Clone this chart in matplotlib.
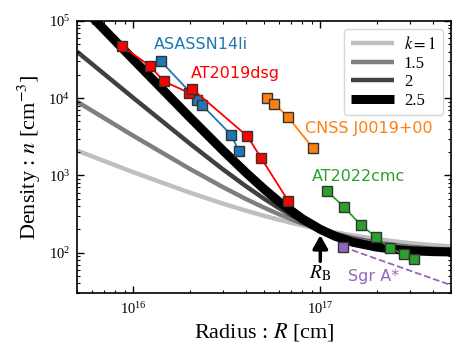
import matplotlib
matplotlib.use('Agg')
import matplotlib.pyplot as plt

plt.rcParams['font.family'] = ['Liberation Serif', 'DejaVu Serif']
plt.rcParams['mathtext.fontset'] = 'stix'

# ---- model density profiles ----
radius_model = [5e15, 1e16, 2e16, 3e16, 4e16, 5e16, 6e16, 8e16, 1e17, 1.2e17,
                1.5e17, 2e17, 2.5e17, 3e17, 4e17, 5e17]
density_k1 = [2100, 1100, 600, 433, 350, 300, 267, 225, 200, 183,
              167, 150, 140, 133, 125, 120]
density_k15 = [9040, 3260, 1220, 710, 495, 383, 315, 240, 200, 176,
               154, 135, 125, 119, 112.5, 109]
density_k2 = [40100, 10100, 2600, 1210, 725, 500, 378, 256, 200, 169,
              144, 125, 116, 111, 106, 104]
density_k25 = [179000, 31700, 5690, 2130, 1090, 666, 459, 275, 200, 163,
               136, 118, 110, 106, 103, 102]
k_labels = ['$k=1$', '1.5', '2', '2.5']

# ---- observed sources ----
asassn_R = [1.40e16, 2.20e16, 2.34e16, 3.34e16, 3.66e16]
asassn_n = [3.04e4, 9.5e3, 8.07e3, 3.35e3, 2.08e3]

at2019_R = [8.68e15, 1.233e16, 1.452e16, 1.977e16, 2.06e16, 4.08e16, 4.81e16, 6.76e16]
at2019_n = [4.72e4, 2.60e4, 1.66e4, 1.18e4, 1.33e4, 3.21e3, 1.70e3, 462]

cnss_R = [5.21e16, 5.67e16, 6.74e16, 9.10e16]
cnss_n = [1.02e4, 8.49e3, 5.65e3, 2.29e3]

at2022_R = [1.086e17, 1.34e17, 1.65e17, 1.98e17, 2.36e17, 2.79e17, 3.18e17]
at2022_n = [628, 390, 226, 161, 114, 95.3, 83.4]

sgra_R = [1.32e17, 5.0e17]
sgra_n = [118.6, 37.9]

R_B = 1e17

fig = plt.figure(figsize=(4.63, 3.61), dpi=100)
ax = fig.add_axes([0.1663, 0.1884, 0.9741 - 0.1663, 0.9418 - 0.1884])

model_sets = [density_k1, density_k15, density_k2, density_k25]
alphas = [0.25, 0.5, 0.75, 1.0]
widths = [3.2, 3.2, 3.2, 6.5]
for dens, a, w, lab in zip(model_sets, alphas, widths, k_labels):
    ax.plot(radius_model, dens, color='k', alpha=a, lw=w, label=lab,
            solid_capstyle='butt', zorder=2)

mk = dict(marker='s', ms=7.5, mec='0.2', mew=1.0)
ax.plot(asassn_R, asassn_n, color='#1f77b4', lw=1.3, mfc='#1f77b4', zorder=4, **mk)
ax.plot(at2019_R, at2019_n, color='#ff0000', lw=1.3, mfc='#ff0000', zorder=4, **mk)
ax.plot(cnss_R, cnss_n, color='#ff7f0e', lw=1.3, mfc='#ff7f0e', zorder=4, **mk)
ax.plot(at2022_R, at2022_n, color='#2ca02c', lw=1.3, mfc='#2ca02c', zorder=4, **mk)
ax.plot(sgra_R, sgra_n, color='#9467bd', lw=1.3, ls='--', zorder=3)
ax.plot(sgra_R[:1], sgra_n[:1], ls='none', mfc='#9467bd', color='#9467bd', zorder=4, **mk)

tk = dict(family='DejaVu Sans', fontsize=11.5, va='center', ha='left')
ax.text(1.295e16, 4.97e4, 'ASASSN14li', color='#1f77b4', **tk)
ax.text(2.02e16, 2.09e4, 'AT2019dsg', color='#ff0000', **tk)
ax.text(8.31e16, 4.07e3, 'CNSS J0019+00', color='#ff7f0e', **tk)
ax.text(9.06e16, 973, 'AT2022cmc', color='#2ca02c', **tk)
ax.text(1.41e17, 48.8, 'Sgr A*', color='#9467bd', **tk)

ax.annotate('', xy=(R_B, 168), xytext=(R_B, 77),
            arrowprops=dict(arrowstyle='-|>,head_width=0.45,head_length=0.8',
                            lw=2.5, color='k', shrinkA=0, shrinkB=0))
ax.text(R_B, 55, r'$R_{\rm B}$', fontsize=14, ha='center', va='center')

ax.set_xscale('log')
ax.set_yscale('log')
ax.set_xlim(5e15, 5e17)
ax.set_ylim(30, 1e5)
ax.set_xlabel(r'Radius : $R$ [cm]', fontsize=16, labelpad=3)
ax.set_ylabel(r'Density : $n$ [cm$^{-3}$]', fontsize=16)
ax.tick_params(which='both', direction='in', top=True, right=True, labelsize=10.5)
ax.tick_params(which='major', length=5, width=1)
ax.tick_params(which='minor', length=2.5, width=0.8)
ax.tick_params(axis='x', which='major', pad=6)
ax.tick_params(axis='y', which='major', pad=5)
for s in ax.spines.values():
    s.set_linewidth(1.2)

leg = ax.legend(loc='upper right', fontsize=12, handlelength=2.6,
                handletextpad=0.6, labelspacing=0.15, borderpad=0.4,
                borderaxespad=0.5, fancybox=True)

fig.savefig('out.png', dpi=100)
